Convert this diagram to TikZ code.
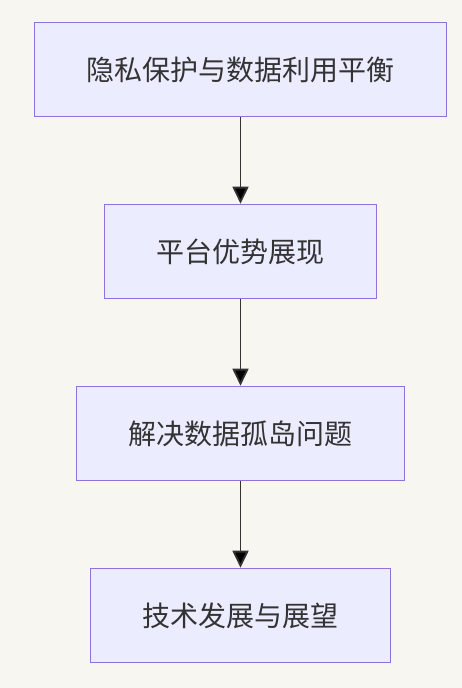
\documentclass[tikz,border=0pt]{standalone}
\usepackage{fontspec}
\setmainfont{Noto Sans CJK SC}
\usetikzlibrary{positioning,arrows.meta}
\definecolor{pagebg}{HTML}{F8F6F1}
\definecolor{boxfill}{HTML}{ECECFF}
\definecolor{boxline}{HTML}{9370DB}
\definecolor{inkgray}{HTML}{333333}

\begin{document}
\begin{tikzpicture}[x=1pt,y=1pt,node distance=86.4pt,
    step box/.style={rectangle,draw=boxline,fill=boxfill,line width=1.6pt,minimum height=94pt,inner sep=0pt,text=inkgray,font=\fontsize{28}{32}\selectfont},
    flow/.style={-{Triangle[length=17pt,width=16pt]},draw=inkgray,line width=1.8pt}]

    \fill[pagebg] (0,0) rectangle (462,-688);
    \useasboundingbox (0,0) rectangle (462,-688);

    \node[step box, minimum width=412pt] (balance) at (240.5,-69.5) {隐私保护与数据利用平衡};
    \node[step box, minimum width=272pt] (platform) [below=of balance] {平台优势展现};
    \node[step box, minimum width=328pt] (silo) [below=of platform] {解决数据孤岛问题};
    \node[step box, minimum width=300pt] (future) [below=of silo] {技术发展与展望};

    \path[flow]
        (balance) edge (platform)
        (platform) edge (silo)
        (silo) edge (future)
    ;

\end{tikzpicture}
\end{document}
